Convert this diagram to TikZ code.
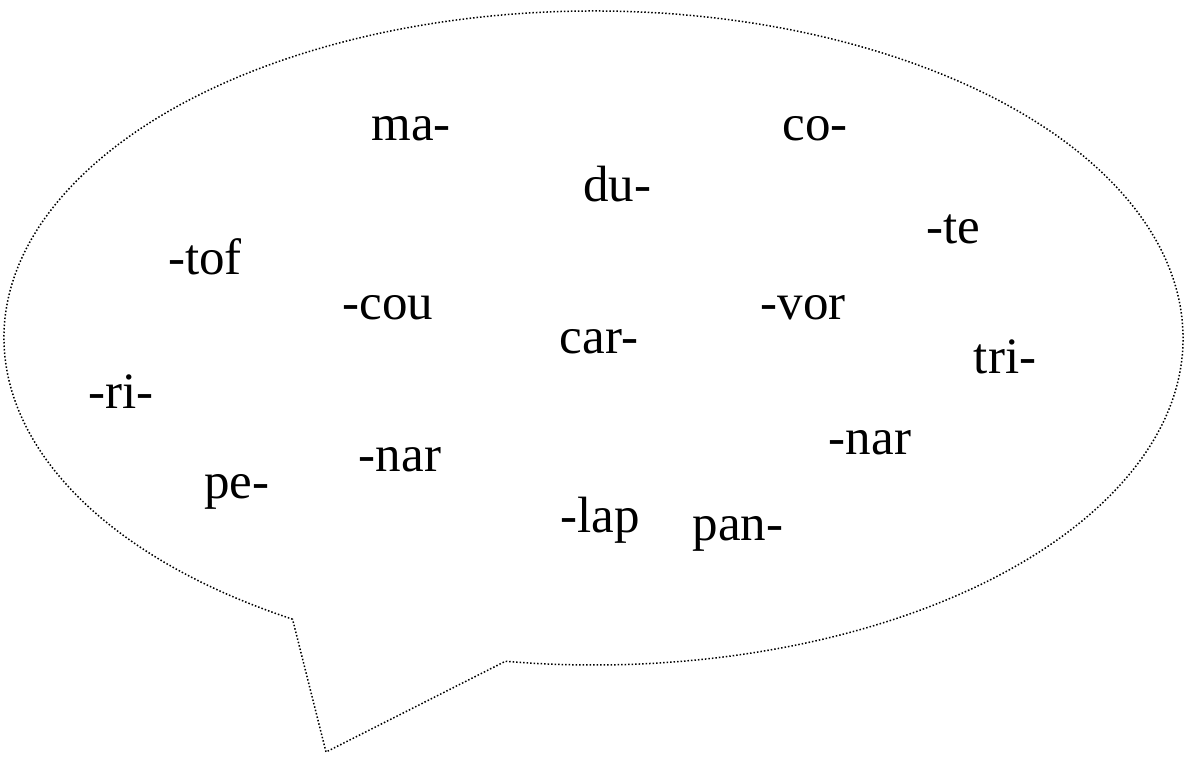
\documentclass[tikz,border=0pt]{standalone}
\usepackage{fontspec}
\setmainfont{Liberation Serif}
\usepackage{tikz}
\usetikzlibrary{calc}
\tikzset{bubble/.style={draw=black,line width=0.75pt,dash pattern=on 0.75pt off 1pt},
  syl/.style={anchor=base,inner sep=0pt,font=\fontsize{25.5}{30}\selectfont}}

\begin{document}
\begin{tikzpicture}[x=0.5pt,y=-0.5pt]
    \useasboundingbox (0,0) rectangle (1184,756);
    \coordinate (mid) at (593.5,338);
    \coordinate (tip) at (326,752);
    % speech bubble, long way round from the left foot of the tail
    \draw[bubble] (mid) ++(239.3:294.75pt and 163.5pt)
      arc[start angle=239.3,end angle=-98.6,x radius=294.75pt,y radius=163.5pt]
      -- (tip) -- cycle;
    \foreach \nm/\px/\py/\txt in {ma/411/140/ma-,co/815/140/co-,du/617/201/du-,
      te/953/243/-te,tof/205/274/-tof,cou/388/319/-cou,vor/803/319/-vor,
      car/599/353/car-,tri/1005/373/tri-,ri/121/408/-ri-,narL/400/471/-nar,
      narR/870/454/-nar,pe/237/498/pe-,lap/600/532/-lap,pan/738/540/pan-}
      \node[syl] (\nm) at (\px,\py) {\txt};
  \end{tikzpicture}
\end{document}
